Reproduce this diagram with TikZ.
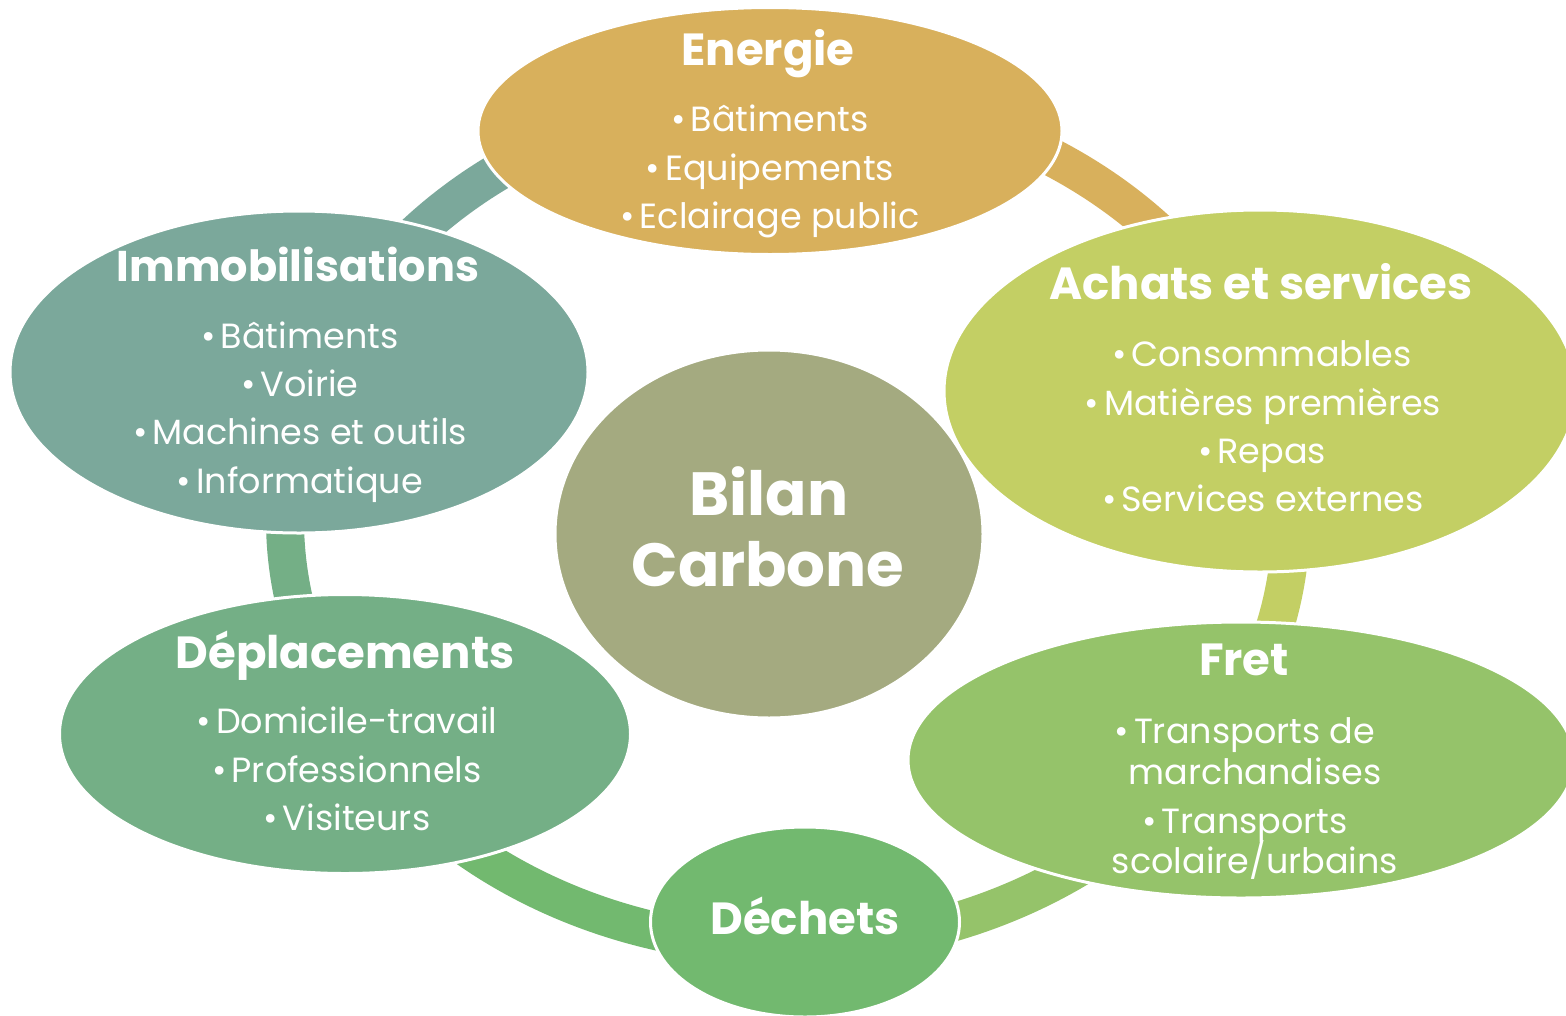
\documentclass[tikz,border=0pt]{standalone}
\usepackage{fontspec}
\setmainfont{Poppins}
\usetikzlibrary{shapes.geometric}
\definecolor{cEnergie}{HTML}{D8B05C}
\definecolor{cImmob}{HTML}{7BA89B}
\definecolor{cAchats}{HTML}{C3CF64}
\definecolor{cFret}{HTML}{95C36A}
\definecolor{cDechets}{HTML}{72B96F}
\definecolor{cDeplac}{HTML}{74AF86}
\definecolor{cBilan}{HTML}{A4AA80}
\newcommand{\bul}{•\hspace{0.14em}}
\begin{document}
\begin{tikzpicture}[x=1pt,y=-1pt,
  blob/.style={ellipse, draw=white, line width=3pt, inner sep=0pt},
  ttl/.style={text=white, font=\fontsize{45}{50}\selectfont\bfseries, anchor=mid, inner sep=0pt},
  itm/.style={text=white, font=\fontsize{35}{40}\selectfont, anchor=mid, inner sep=0pt},
  big/.style={text=white, font=\fontsize{61}{66}\selectfont\bfseries, anchor=mid, inner sep=0pt},
  ring/.style={line width=38pt}
]
\fill[white] (0,0) rectangle (1566,1015);
\useasboundingbox (0,0) rectangle (1566,1015);

% ring segments
\coordinate (rc) at (788,520);
\draw[ring, draw=cImmob]   (rc) ++(-165:503 and 426) arc[start angle=-165, end angle=-95, x radius=503, y radius=426];
\draw[ring, draw=cEnergie] (rc) ++(-95:503 and 426)  arc[start angle=-95, end angle=-15, x radius=503, y radius=426];
\draw[ring, draw=cAchats]  (rc) ++(-15:503 and 426)  arc[start angle=-15, end angle=35, x radius=503, y radius=426];
\draw[ring, draw=cFret]    (rc) ++(35:503 and 426)   arc[start angle=35, end angle=90, x radius=503, y radius=426];
\draw[ring, draw=cDechets] (rc) ++(90:503 and 426)   arc[start angle=90, end angle=150, x radius=503, y radius=426];
\draw[ring, draw=cDeplac]  (rc) ++(150:503 and 426)  arc[start angle=150, end angle=195, x radius=503, y radius=426];

% ellipses
\node[blob, fill=cEnergie, minimum width=584, minimum height=247] (energie) at (770,131) {};
\node[blob, fill=cImmob, minimum width=578, minimum height=322] (immob) at (299,372) {};
\node[blob, fill=cAchats, minimum width=632, minimum height=362] (achats) at (1260,391) {};
\node[blob, fill=cFret, minimum width=666, minimum height=276] (fret) at (1241,760) {};
\node[blob, fill=cDeplac, minimum width=571, minimum height=279] (deplac) at (345,734) {};
\node[blob, fill=cDechets, minimum width=309, minimum height=190] (dechets) at (805,922) {};
\node[blob, fill=cBilan, minimum width=428, minimum height=368] (bilan) at (769,534) {};

% Energie
\node[ttl] (e0) at (768,63) {Energie};
\node[itm] (e1) at (770,129) {\bul Bâtiments};
\node[itm] (e2) at (770,178) {\bul Equipements};
\node[itm] (e3) at (770,226) {\bul Eclairage public};

% Immobilisations
\node[ttl, font=\fontsize{43}{48}\selectfont\bfseries] (i0) at (298,279) {Immobilisations};
\node[itm] (i1) at (300,346) {\bul Bâtiments};
\node[itm] (i2) at (300,394) {\bul Voirie};
\node[itm] (i3) at (300,442) {\bul Machines et outils};
\node[itm] (i4) at (300,491) {\bul Informatique};

% Achats et services
\node[ttl] (a0) at (1261,297) {Achats et services};
\node[itm] (a1) at (1262,364) {\bul Consommables};
\node[itm] (a2) at (1263,413) {\bul Matières premières};
\node[itm] (a3) at (1262,461) {\bul Repas};
\node[itm] (a4) at (1263,509) {\bul Services externes};

% Fret
\node[ttl] (f0) at (1244,673) {Fret};
\node[itm] (f1) at (1245,741) {\bul Transports de};
\node[itm] (f2) at (1255,782) {marchandises};
\node[itm] (f3) at (1245,831) {\bul Transports};
\node[itm] (f4) at (1255,871) {scolaire/urbains};

% Deplacements
\node[ttl] (d0) at (345,666) {Déplacements};
\node[itm] (d1) at (347,731) {\bul Domicile-travail};
\node[itm] (d2) at (347,780) {\bul Professionnels};
\node[itm] (d3) at (347,828) {\bul Visiteurs};

% Dechets
\node[ttl] (w0) at (805,932) {Déchets};

% Bilan Carbone
\node[big] (b1) at (769,513) {Bilan};
\node[big] (b2) at (768,584) {Carbone};
\end{tikzpicture}
\end{document}
